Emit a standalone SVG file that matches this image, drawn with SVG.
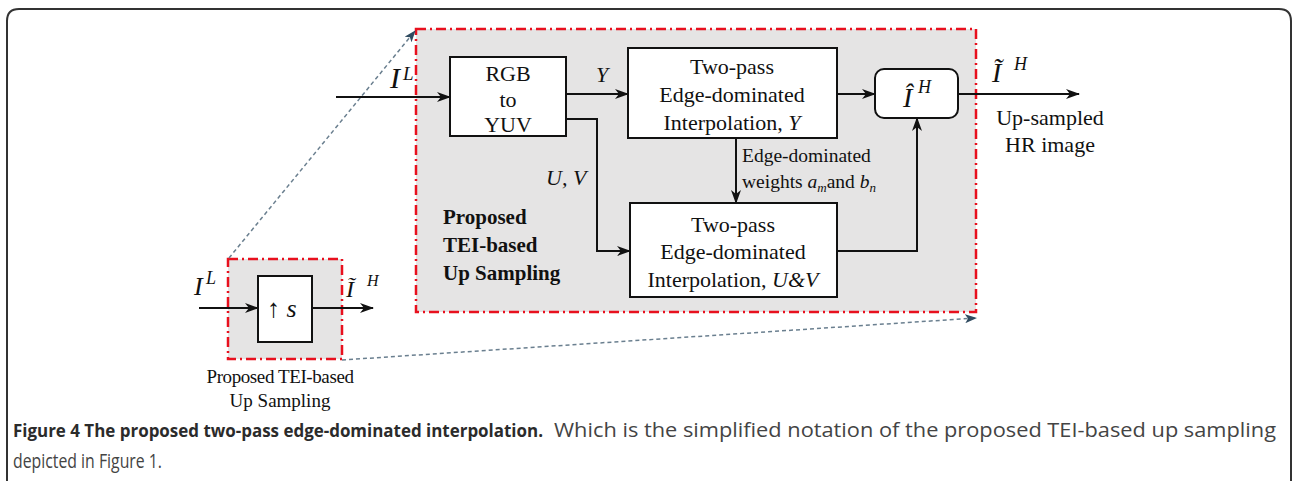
<svg xmlns="http://www.w3.org/2000/svg" width="1293" height="481" viewBox="0 0 1293 481">
<style>
.t{font-family:"Liberation Serif","Times New Roman",serif;fill:#111;}
.c{text-anchor:middle;}
.i{font-style:italic;}
.b{font-weight:bold;}
.box{fill:#fff;stroke:#111;stroke-width:2;}
.grp{fill:#e5e4e4;stroke:#e8101e;stroke-width:2.5;stroke-dasharray:10 4 2 4;}
.wire{fill:none;stroke:#111;stroke-width:2;}
.dot{fill:none;stroke:#6a7f8f;stroke-width:1.5;stroke-dasharray:4 3;}
.cap{font-family:"Open Sans","Noto Sans",sans-serif;font-size:20px;}
</style>
<defs>
<marker id="ah" viewBox="0 0 14 10" refX="13" refY="5" markerWidth="14" markerHeight="10" markerUnits="userSpaceOnUse" orient="auto">
<path d="M0,0 L14,5 L0,10 L4,5 z" fill="#111"/>
</marker>
<marker id="ad" viewBox="0 0 12 9" refX="11" refY="4.5" markerWidth="12" markerHeight="9" markerUnits="userSpaceOnUse" orient="auto">
<path d="M0,0 L12,4.5 L0,9 L3,4.5 z" fill="#2f4b60"/>
</marker>
</defs>
<rect width="1293" height="481" fill="#fff"/>
<path d="M7,495 L7,21 Q7,9 19,9 L1279,9 Q1291,9 1291,21 L1291,495" fill="none" stroke="#333" stroke-width="2"/>

<g id="group-big">
<rect class="grp" x="416" y="29" width="560" height="283"/>
<text class="t b" font-size="21"><tspan x="443" y="224">Proposed</tspan><tspan x="443" y="252">TEI-based</tspan><tspan x="443" y="280">Up Sampling</tspan></text>
</g>
<g id="group-small">
<rect class="grp" x="228" y="259" width="114" height="100"/>
</g>

<g id="connectors">
<path class="dot" d="M229,258 L415,31" marker-end="url(#ad)"/>
<path class="dot" d="M342,360 L976,318" marker-end="url(#ad)"/>
<path class="wire" d="M336,97 L450,97" marker-end="url(#ah)"/>
<path class="wire" d="M566,94 L628,94" marker-end="url(#ah)"/>
<path class="wire" d="M566,119 L597,119 L597,251 L630,251" marker-end="url(#ah)"/>
<path class="wire" d="M837,94 L875,94" marker-end="url(#ah)"/>
<path class="wire" d="M958,94 L1079,94" marker-end="url(#ah)"/>
<path class="wire" d="M736,138 L736,203" marker-end="url(#ah)"/>
<path class="wire" d="M837,251 L917,251 L917,118" marker-end="url(#ah)"/>
<path class="wire" d="M199,308 L258,308" marker-end="url(#ah)"/>
<path class="wire" d="M312,308 L373,308" marker-end="url(#ah)"/>
</g>

<g id="labels">
<text class="t i" font-size="30" x="390" y="88">I</text>
<text class="t i" font-size="19" x="403" y="80">L</text>
<text class="t i" font-size="22" x="596" y="82">Y</text>
<text class="t i" font-size="22" x="546" y="185">U, V</text>
<text class="t" font-size="19.5" x="742" y="162">Edge-dominated</text>
<text class="t" font-size="19.5" x="742" y="188">weights <tspan class="i">a</tspan><tspan class="i" font-size="13" dy="4">m</tspan><tspan dy="-4">and </tspan><tspan class="i">b</tspan><tspan class="i" font-size="13" dy="4">n</tspan></text>
<text class="t i" font-size="28" x="992" y="82">Ĩ</text>
<text class="t i" font-size="18" x="1014" y="70">H</text>
<text class="t c" font-size="22" x="1050" y="125">Up-sampled</text>
<text class="t c" font-size="22" x="1050" y="152">HR image</text>
<text class="t i" font-size="26" x="194" y="295">I</text>
<text class="t i" font-size="18" x="206" y="284">L</text>
<text class="t i" font-size="24" x="346" y="297">Ĩ</text>
<text class="t i" font-size="16" x="367" y="286">H</text>
<text class="t c" font-size="19" x="280" y="383" letter-spacing="-0.4">Proposed TEI-based</text>
<text class="t c" font-size="19" x="280" y="407">Up Sampling</text>
</g>

<g id="rgb2yuv">
<rect class="box" x="450" y="57" width="116" height="79"/>
<text class="t c" font-size="22"><tspan x="508" y="81">RGB</tspan><tspan x="508" y="107">to</tspan><tspan x="508" y="132">YUV</tspan></text>
</g>
<g id="tei-y">
<rect class="box" x="628" y="48" width="209" height="90"/>
<text class="t c" font-size="22"><tspan x="732" y="74">Two-pass</tspan><tspan x="732" y="102">Edge-dominated</tspan><tspan x="732" y="130">Interpolation, <tspan class="i">Y</tspan></tspan></text>
</g>
<g id="tei-uv">
<rect class="box" x="630" y="203" width="207" height="94"/>
<text class="t c" font-size="22"><tspan x="733" y="232">Two-pass</tspan><tspan x="733" y="259">Edge-dominated</tspan><tspan x="733" y="287">Interpolation, <tspan class="i">U&amp;V</tspan></tspan></text>
</g>
<g id="ihat">
<rect class="box" x="875" y="69" width="83" height="49" rx="9"/>
<text class="t i" font-size="28" x="903" y="107">Î</text>
<text class="t i" font-size="18" x="918" y="93">H</text>
</g>
<g id="upsample">
<rect class="box" x="258" y="276" width="54" height="66"/>
<text class="t" font-size="26" x="267" y="317">↑ <tspan class="i">s</tspan></text>
</g>

<g id="caption">
<text class="cap" y="437" fill="#444"><tspan x="13" font-weight="bold" fill="#2b2b2b" font-size="18.5" textLength="530" lengthAdjust="spacingAndGlyphs">Figure 4 The proposed two-pass edge-dominated interpolation.</tspan><tspan x="554" textLength="722" lengthAdjust="spacingAndGlyphs">Which is the simplified notation of the proposed TEI-based up sampling</tspan></text>
<text class="cap" x="13" y="468" fill="#444" textLength="149" lengthAdjust="spacingAndGlyphs">depicted in Figure 1.</text>
</g>
</svg>
